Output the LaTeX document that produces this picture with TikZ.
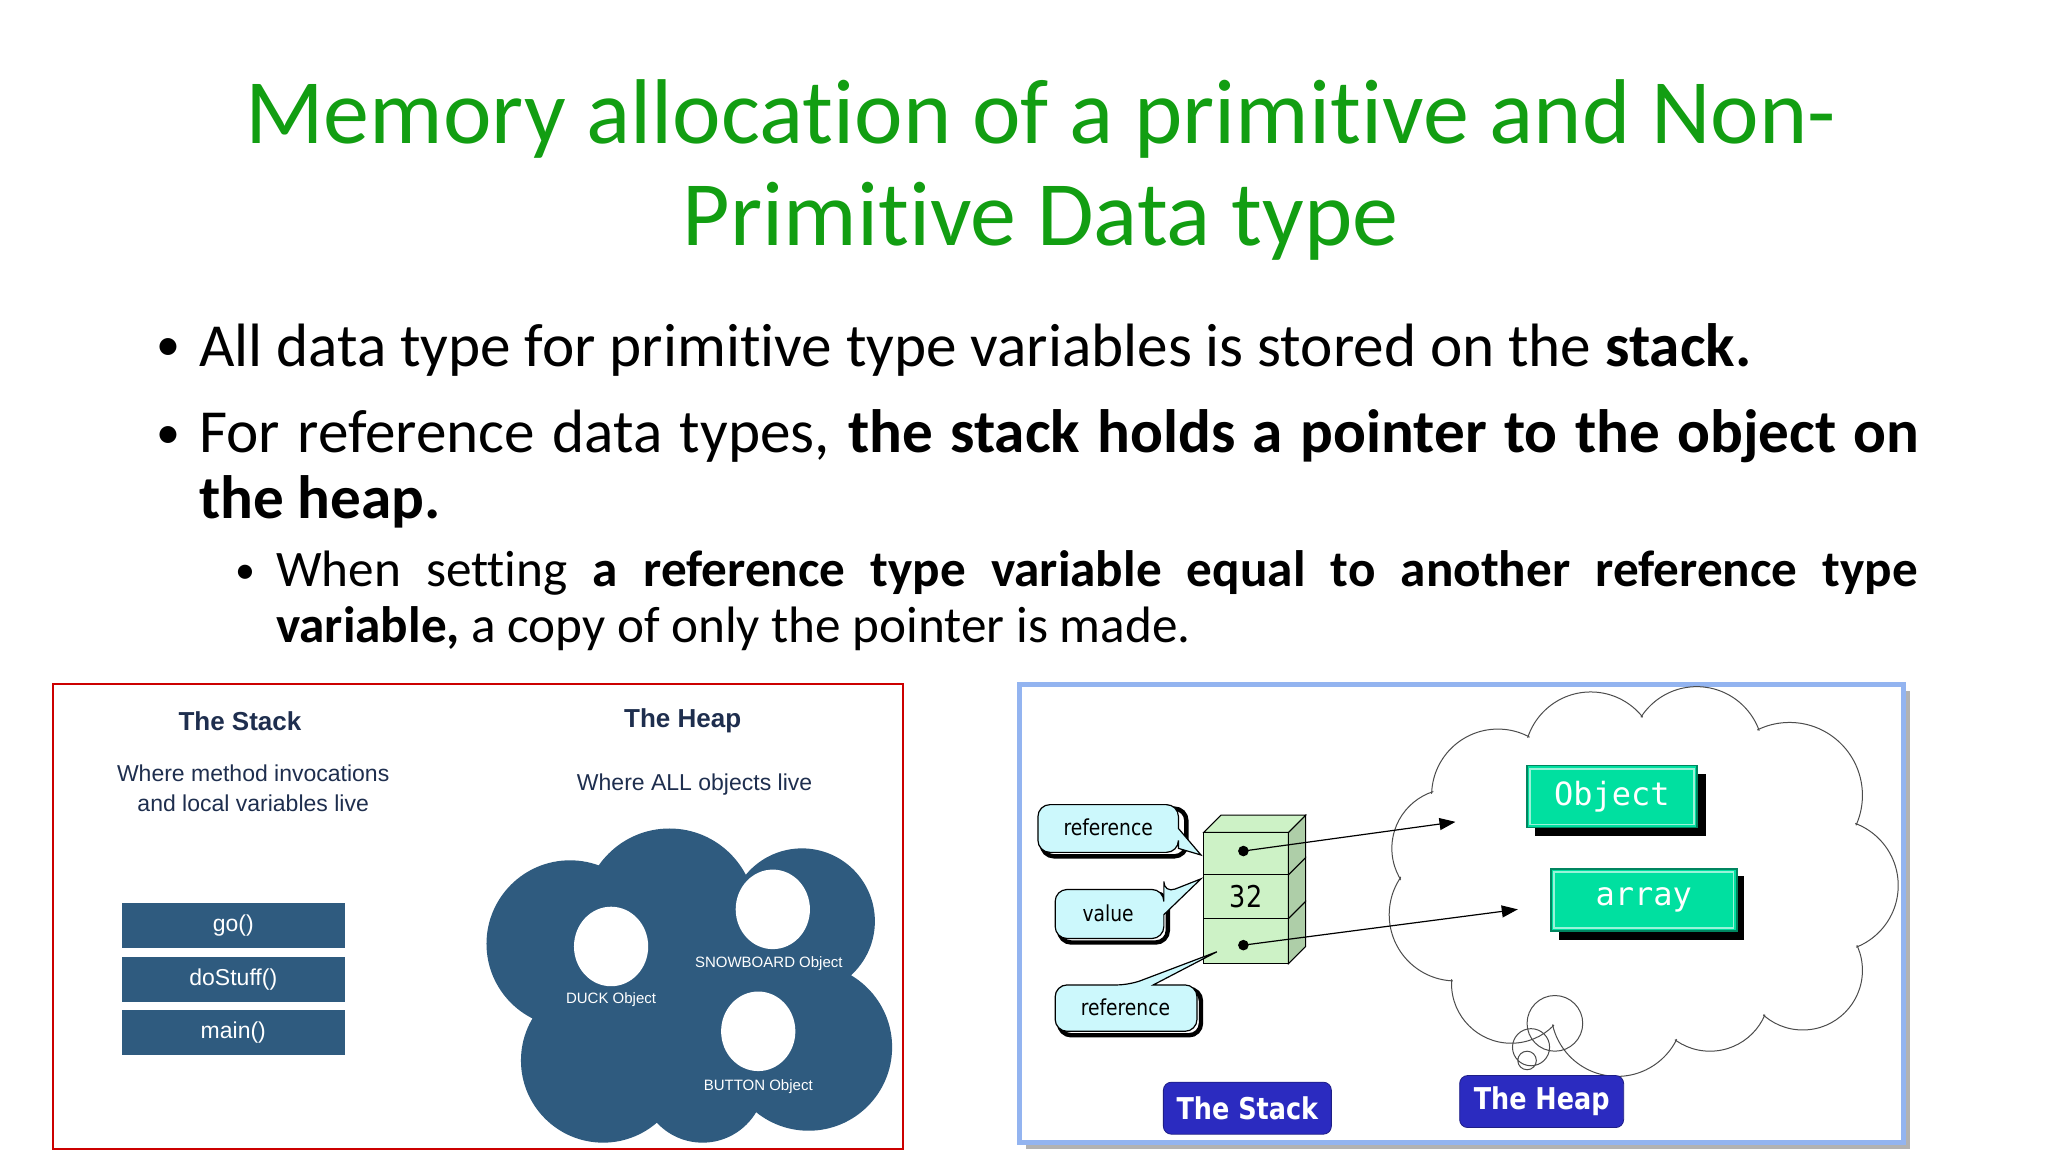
\documentclass[tikz,border=0pt]{standalone}
\usepackage{fontspec}
\setmainfont{Carlito}[Ligatures=NoCommon]
\newfontfamily\ar{Liberation Sans}
\newfontfamily\dv{DejaVu Sans}[FakeStretch=0.85]
\newfontfamily\dvm{DejaVu Sans Mono}
\usetikzlibrary{arrows.meta}
\hyphenpenalty=10000
\definecolor{ttl}{HTML}{129E12}
\definecolor{slate}{HTML}{2F5B7F}
\definecolor{navy}{HTML}{1E2E4E}
\definecolor{cgreen}{HTML}{CDF2C6}
\definecolor{ccyan}{HTML}{CCF8FC}
\definecolor{teal}{HTML}{00E0A0}
\definecolor{bluelab}{HTML}{2B2BC0}
\definecolor{frameblue}{HTML}{93B4F0}
\tikzset{
 txt/.style={inner sep=0pt,anchor=west},
 frame/.style={fill=slate,draw=white,line width=1.5},
 callout/.style={draw=black,fill=ccyan,rounded corners=6,line width=0.6},
 bluebox/.style={fill=bluelab,draw=bluelab!70!black,rounded corners=4,text=white,font=\dv\bfseries\fontsize{15}{15}\selectfont,inner sep=0pt},
 objbox/.style={fill=teal,draw=teal!60!black,line width=0.8,text=white,font=\dvm\fontsize{16}{16}\selectfont,inner sep=0pt},
}
\begin{document}
\begin{tikzpicture}[x=0.6628pt,y=-0.6628pt]
\useasboundingbox (0,0) rectangle (1545,869);
\fill[white] (0,0) rectangle (1545,869);
% title
\node[text=ttl,font=\fontsize{46}{51}\selectfont,align=center] (title) at (785,128) {Memory allocation of a primitive and Non-\\Primitive Data type};
% bullets
\node[font=\fontsize{24}{33}\selectfont] (b1) at (127,264) {\textbullet};
\node[txt,font=\fontsize{30.6}{33}\selectfont] (t1) at (150,264) {All data type for primitive type variables is stored on the \textbf{stack.}};
\node[font=\fontsize{24}{33}\selectfont] (b2) at (127,330) {\textbullet};
\node[anchor=north west,inner sep=0pt,text width=860pt,align=justify,font=\fontsize{30.6}{33}\selectfont] (t2) at (150,309) {\hyphenpenalty=10000 For reference data types, \textbf{the stack holds a pointer to the object on the heap.}};
\node[font=\fontsize{20}{28}\selectfont] (b3) at (185,433) {\textbullet};
\node[anchor=north west,inner sep=0pt,text width=821pt,align=justify,font=\fontsize{25.6}{28}\selectfont] (t3) at (208,415) {\hyphenpenalty=10000 When setting \textbf{a reference type variable equal to another reference type variable,} a copy of only the pointer is made.};
% left panel
\draw[red!80!black,line width=0.8] (40,516) rectangle (681,867);
\node[text=navy,font=\ar\bfseries\fontsize{13}{15}\selectfont] (ls) at (181,544) {The Stack};
\node[text=navy,font=\ar\fontsize{11.5}{15}\selectfont,align=center] (lsd) at (191,595) {Where method invocations\\and local variables live};
\node[text=navy,font=\ar\bfseries\fontsize{13}{15}\selectfont] (lh) at (515,544) {The Heap};
\node[text=navy,font=\ar\fontsize{11.5}{15}\selectfont] (lhd) at (524,592) {Where ALL objects live};
\node[frame,minimum width=113pt,minimum height=24pt,text=white,font=\ar\fontsize{11.5}{13}\selectfont] (go) at (176,698) {go()};
\node[frame,minimum width=113pt,minimum height=24pt,text=white,font=\ar\fontsize{11.5}{13}\selectfont] (ds) at (176,739) {doStuff()};
\node[frame,minimum width=113pt,minimum height=24pt,text=white,font=\ar\fontsize{11.5}{13}\selectfont] (mn) at (176,779) {main()};
\fill[slate] (505,690) circle (65) (605,695) circle (55) (430,712) circle (63)
  (610,790) circle (63) (455,800) circle (62) (530,815) circle (47) (520,740) circle (90);
\fill[white] (461,714) ellipse (28 and 30) (583,686) ellipse (28 and 30) (572,778) ellipse (28 and 30);
\node[text=white,font=\ar\fontsize{7.5}{9}\selectfont] (duck) at (461,754) {DUCK Object};
\node[text=white,font=\ar\fontsize{7.5}{9}\selectfont] (snow) at (580,727) {SNOWBOARD Object};
\node[text=white,font=\ar\fontsize{7.5}{9}\selectfont] (btn) at (572,820) {BUTTON Object};
% right panel
\fill[gray!60] (774,521) rectangle (1441,867);
\draw[frameblue,line width=2.5,fill=white] (769,516) rectangle (1436,862);
% cloud
\foreach \x/\y/\r in {1130/600/50,1200/572/50,1280/568/50,1350/600/55,1382/668/50,1360/732/45,1290/748/45,1220/762/50,1140/742/45,1098/690/50,1095/640/45}
  \draw[black!70,line width=0.5] (\x,\y) circle (\r);
\foreach \x/\y/\r in {1130/600/50,1200/572/50,1280/568/50,1350/600/55,1382/668/50,1360/732/45,1290/748/45,1220/762/50,1140/742/45,1098/690/50,1095/640/45}
  \fill[white] (\x,\y) circle (\r-1.2);
\fill[white] (1230,665) ellipse (130 and 95);
\draw[black!70,line width=0.5] (1173,772) circle (21) (1155,790) circle (14) (1152,800) circle (7);
% objects
\fill[black] (1158,584) rectangle (1287,631);
\node[objbox,minimum width=85pt,minimum height=31pt] (obj) at (1216,601) {Object};
\draw[teal!40!white,line width=0.8] ([shift={(3,3)}]obj.north west) rectangle ([shift={(-3,-3)}]obj.south east);
\fill[black] (1176,661) rectangle (1316,709);
\node[objbox,minimum width=93pt,minimum height=31pt] (arr) at (1240,679) {array};
\draw[teal!40!white,line width=0.8] ([shift={(3,3)}]arr.north west) rectangle ([shift={(-3,-3)}]arr.south east);
% stack column
\foreach \a/\b in {628/660,660/693,693/727}{
  \draw[fill=cgreen,line width=0.5] (908,\a) rectangle (972,\b);
  \draw[fill=cgreen!85!black,line width=0.5] (972,\a) -- (985,\a-13) -- (985,\b-13) -- (972,\b) -- cycle;}
\draw[fill=cgreen,line width=0.5] (908,628) -- (921,615) -- (985,615) -- (972,628) -- cycle;
\fill (938,642) circle (4) coordinate (d1);
\fill (938,713) circle (4) coordinate (d2);
\node[font=\dv\fontsize{15}{15}\selectfont] (v32) at (940,676) {32};
\coordinate (h1) at (1098,620);
\coordinate (h2) at (1145,686);
\draw[-{Triangle[length=8,width=6]},line width=0.6] (d1) -- (h1);
\draw[-{Triangle[length=8,width=6]},line width=0.6] (d2) -- (h2);
% callouts
\draw[black,line width=2.2,rounded corners=6] (786,610) rectangle (895,646);
\draw[callout] (783,607) -- (889,607) [rounded corners=0] -- (889,625) -- (906,645) -- (889,640) [rounded corners=6] -- (889,643) -- (783,643) -- cycle;
\node[font=\dv\fontsize{11}{11}\selectfont] (r1) at (836,624) {reference};
\draw[black,line width=2.2,rounded corners=6] (799,674) rectangle (881,711);
\draw[callout] (796,671) -- (878,671) -- (878,674) [rounded corners=0] -- (906,663) -- (878,690) [rounded corners=6] -- (878,708) -- (796,708) -- cycle;
\node[font=\dv\fontsize{11}{11}\selectfont] (val) at (836,689) {value};
\draw[black,line width=2.2,rounded corners=6] (799,746) rectangle (906,781);
\draw[callout] (796,743) -- (852,743) [rounded corners=0] -- (918,718) -- (870,743) [rounded corners=6] -- (903,743) -- (903,778) -- (796,778) -- cycle;
\node[font=\dv\fontsize{11}{11}\selectfont] (r2) at (849,760) {reference};
% labels
\node[bluebox,minimum width=84pt,minimum height=26pt] (ts) at (941,836) {The Stack};
\node[bluebox,minimum width=82pt,minimum height=26pt] (th) at (1163,831) {The Heap};
\end{tikzpicture}
\end{document}
